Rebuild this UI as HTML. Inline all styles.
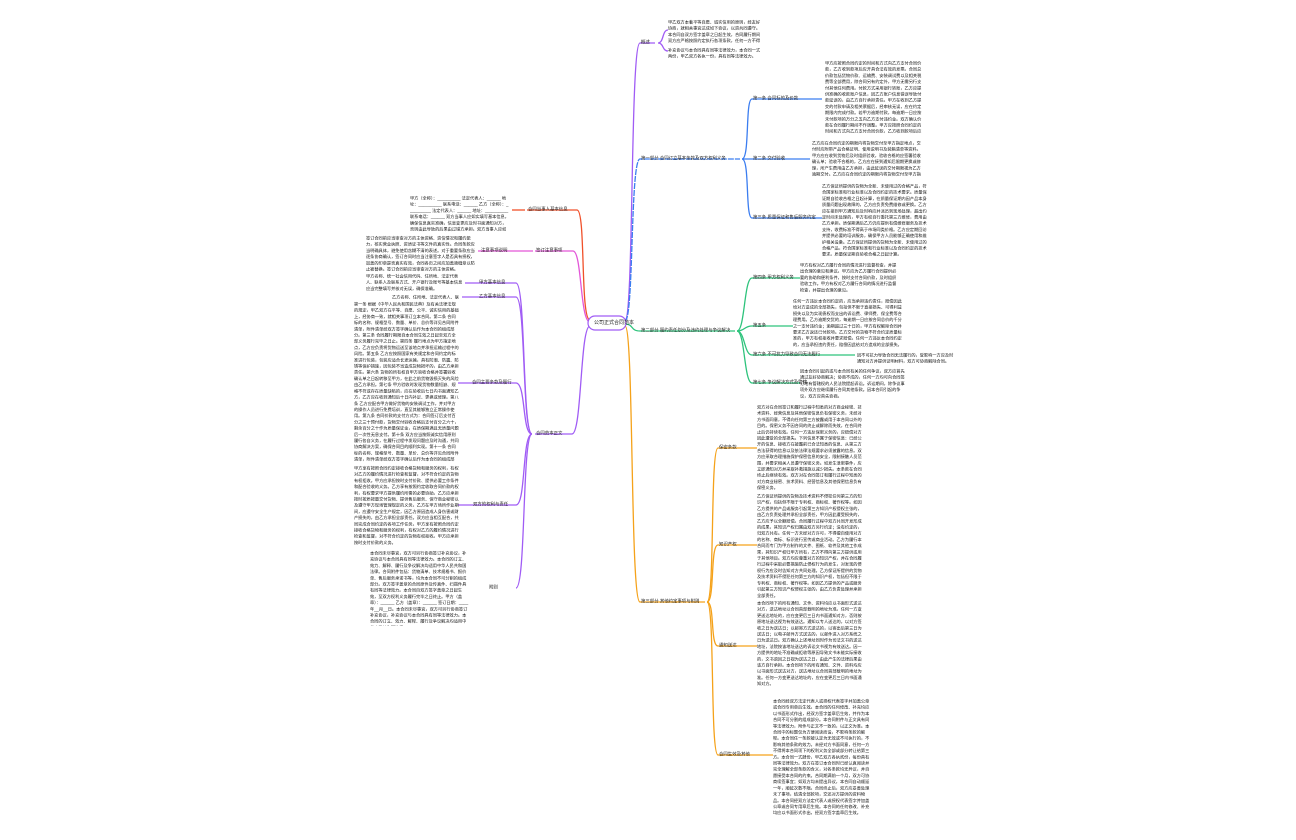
<!DOCTYPE html>
<html><head><meta charset="utf-8"><style>
body{margin:0;width:1296px;height:840px;background:#fff;position:relative;overflow:hidden;font-family:"Liberation Sans","Noto Sans CJK SC",sans-serif}
.t{position:absolute;font-size:8.4px;line-height:12.4px;color:#111;word-break:break-all;overflow:hidden;transform:scale(.5);transform-origin:0 0}
.l{position:absolute;font-size:8.8px;line-height:12px;color:#222;white-space:nowrap;transform:scale(.5);transform-origin:0 0}
svg{position:absolute;left:0;top:0}
</style></head><body>
<svg width="1296" height="840" fill="none" stroke-width="1.3">
<path d="M625 320 C634 320,630 43,640 43 L655 43" stroke="#a05cf5"/>
<path d="M625 321 C634 321,630 159,640 159 L740 159" stroke="#3b7df0" stroke-dasharray="6 1"/>
<path d="M625 324 C634 324,630 331,640 331 L735 331" stroke="#2ec37c"/>
<path d="M625 326 C634 326,630 602,640 602 L705 602" stroke="#f5a21a"/>
<path d="M590 320 C580 320,586 210,577 210 L527 210" stroke="#f0502a"/>
<path d="M590 322 C580 322,582 251,573 251 L535 251" stroke="#e356d8"/>
<path d="M590 326 C580 326,582 434,572 434 L535 434" stroke="#a05cf5"/>
<path d="M658 43 C664 43,662 30,668 30 M658 43 C664 43,662 51,668 51" stroke="#a05cf5"/>
<path d="M742 159 C750 159,745 99,752 99 L822 99" stroke="#3b7df0"/>
<path d="M742 159 L810 159" stroke="#3b7df0"/>
<path d="M742 159 C750 159,745 218,752 218 L822 218" stroke="#3b7df0"/>
<path d="M737 331 C745 331,744 278,752 278 L800 278" stroke="#2ec37c"/>
<path d="M737 331 C745 331,744 326,752 326 L793 326" stroke="#2ec37c"/>
<path d="M737 331 C745 331,744 355,752 355 L855 355" stroke="#2ec37c"/>
<path d="M737 331 C745 331,744 383,752 383 L800 383" stroke="#2ec37c"/>
<path d="M707 602 C715 602,710 448,718 448 L757 448" stroke="#f5a21a"/>
<path d="M707 602 C715 602,710 545,718 545 L757 545" stroke="#f5a21a"/>
<path d="M707 602 C715 602,710 646,718 646 L757 646" stroke="#f5a21a"/>
<path d="M707 602 C715 602,710 755,718 755 L773 755" stroke="#f5a21a"/>
<path d="M525 210 L512 210" stroke="#f0502a"/>
<path d="M533 251 L478 251" stroke="#e356d8"/>
<path d="M532 434 C522 434,526 283,516 283 L465 283" stroke="#a05cf5"/>
<path d="M532 434 C522 434,526 297,516 297 L462 297" stroke="#a05cf5"/>
<path d="M532 434 C522 434,526 383,516 383 L458 383" stroke="#a05cf5"/>
<path d="M532 434 C522 434,526 505,516 505 L458 505" stroke="#a05cf5"/>
<path d="M532 434 C522 434,526 588,516 588" stroke="#a05cf5"/>
<rect x="588" y="316" width="38" height="14" rx="7" fill="#fff" stroke="#a05cf5" stroke-width="1.2"/>
</svg>
<div class="l" style="left:594px;top:320px;font-size:10px">公司正式合同范本</div>

<div class="l" style="left:641px;top:39px">概述</div>
<div class="l" style="left:641px;top:155px">第一部分 合同订立基本条款及双方权利义务</div>
<div class="l" style="left:641px;top:327px">第二部分 履约责任划分及违约处理与争议解决</div>
<div class="l" style="left:641px;top:598px">第三部分 其他约定事项与附则</div>

<div class="l" style="left:753px;top:95px">第一条 合同标的及价款</div>
<div class="l" style="left:753px;top:155px">第二条 交付验收</div>
<div class="l" style="left:753px;top:214px">第三条 质量保证和售后服务约定</div>
<div class="l" style="left:753px;top:274px">第四条 甲方权利义务</div>
<div class="l" style="left:753px;top:322px">第五条</div>
<div class="l" style="left:753px;top:351px">第六条 不可抗力导致合同无法履行</div>
<div class="l" style="left:753px;top:379px">第七条 争议解决方式及管辖</div>
<div class="l" style="left:719px;top:444px">保密条款</div>
<div class="l" style="left:719px;top:541px">知识产权</div>
<div class="l" style="left:719px;top:642px">通知送达</div>
<div class="l" style="left:719px;top:751px">合同生效及其他</div>

<div class="l" style="left:528px;top:206px">合同当事人基本信息</div>
<div class="l" style="left:536px;top:247px">签订注意事项</div>
<div class="l" style="left:481px;top:247px">注意事项说明</div>
<div class="l" style="left:536px;top:430px">合同范本正文</div>
<div class="l" style="left:479px;top:279px">甲方基本信息</div>
<div class="l" style="left:479px;top:293px">乙方基本信息</div>
<div class="l" style="left:472px;top:379px">合同主要条款及履行</div>
<div class="l" style="left:473px;top:501px">双方的权利与责任</div>
<div class="l" style="left:489px;top:584px">附则</div>

<div class="t" style="left:668px;top:19px;width:190px;height:50px">甲乙双方本着平等自愿、诚实信用的原则，经友好协商，就相关事宜达成如下协议，以资共同遵守。本合同自双方签字盖章之日起生效，合同履行期间双方应严格按照约定执行各项条款，任何一方不得擅自变更或解除合同。本合同未尽事宜由双方另行协商解决并签订补充协议。</div>
<div class="t" style="left:668px;top:47px;width:190px;height:26px">补充协议与本合同具有同等法律效力，本合同一式两份，甲乙双方各执一份，具有同等法律效力。</div>

<div class="t" style="left:825px;top:60px;width:200px;height:150px">甲方应按照合同约定的时间和方式向乙方支付合同价款，乙方收到款项后应开具合法有效的发票。合同总价款包括货物价款、运输费、安装调试费以及相关税费等全部费用，除合同另有约定外，甲方无需另行支付其他任何费用。付款方式采用银行转账，乙方应提供准确的收款账户信息，因乙方账户信息错误导致付款延误的，由乙方自行承担责任。甲方在收到乙方提交的付款申请及相关票据后，经审核无误，应在约定期限内完成付款。若甲方逾期付款，每逾期一日应按未付款项的万分之五向乙方支付违约金。双方确认价款在合同履行期间不作调整。甲方应按照合同约定的时间和方式向乙方支付合同价款，乙方收到款项后应开具合法有效的发票。合同总价款包括货物价款、运输费、安装调试费以及相关税费等全部费用。</div>
<div class="t" style="left:812px;top:140px;width:220px;height:74px">乙方应在合同约定的期限内将货物交付至甲方指定地点，交付时应附带产品合格证明、使用说明书及装箱清单等资料。甲方应在收到货物后及时组织验收，验收合格的应签署验收确认单；验收不合格的，乙方应在接到通知后限期更换或修理，所产生费用由乙方承担，由此延误的交付期限视为乙方逾期交付。乙方应在合同约定的期限内将货物交付至甲方指定地点。</div>
<div class="t" style="left:822px;top:183px;width:210px;height:148px">乙方保证所提供的货物为全新、未使用过的合格产品，符合国家标准和行业标准以及合同约定的技术要求。质量保证期自验收合格之日起计算，在质量保证期内因产品本身质量问题出现故障的，乙方应负责免费维修或更换。乙方应在接到甲方通知后及时响应并派员到现场处理，超出约定时间未处理的，甲方有权自行委托第三方维修，费用由乙方承担。质保期满后乙方仍应提供有偿维修服务及技术支持，收费标准不得高于市场同类价格。乙方应定期回访并提供必要的培训服务，确保甲方人员能够正确使用和维护相关设备。乙方保证所提供的货物为全新、未使用过的合格产品，符合国家标准和行业标准以及合同约定的技术要求。质量保证期自验收合格之日起计算。</div>

<div class="t" style="left:800px;top:262px;width:200px;height:62px">甲方有权对乙方履行合同的情况进行监督检查，并提出合理的意见和建议。甲方应为乙方履行合同提供必要的协助和便利条件，按时支付合同价款，及时组织验收工作。甲方有权对乙方履行合同的情况进行监督检查，并提出合理的意见。</div>
<div class="t" style="left:793px;top:298px;width:220px;height:112px">任何一方违反本合同约定的，应当承担违约责任，赔偿因此给对方造成的全部损失，包括但不限于直接损失、可得利益损失以及为实现债权而支出的诉讼费、律师费、保全费等合理费用。乙方逾期交货的，每逾期一日应按合同总价的千分之一支付违约金；逾期超过三十日的，甲方有权解除合同并要求乙方返还已付款项。乙方交付的货物不符合约定质量标准的，甲方有权拒收并要求赔偿。任何一方违反本合同约定的，应当承担违约责任，赔偿因此给对方造成的全部损失。</div>
<div class="t" style="left:857px;top:352px;width:200px;height:26px">因不可抗力导致合同无法履行的，受影响一方应及时通知对方并提供证明材料，双方可协商解除合同。</div>
<div class="t" style="left:800px;top:368px;width:210px;height:62px">因本合同引起的或与本合同有关的任何争议，双方应首先通过友好协商解决；协商不成的，任何一方均可向合同签订地有管辖权的人民法院提起诉讼。诉讼期间，除争议事项外双方应继续履行合同其他条款。因本合同引起的争议，双方应首先协商。</div>

<div class="t" style="left:757px;top:404px;width:210px;height:172px">双方对在合同签订和履行过程中知悉的对方商业秘密、技术资料、经营信息及其他保密信息负有保密义务，未经对方书面同意，不得向任何第三方披露或用于本合同以外的目的。保密义务不因合同的终止或解除而失效，在合同终止后仍持续有效。任何一方违反保密义务的，应赔偿对方因此遭受的全部损失。下列信息不属于保密信息：已经公开的信息、接收方在披露前已合法知悉的信息、从第三方合法获得的信息以及依法律法规要求必须披露的信息。双方应采取合理措施保护保密信息的安全，限制接触人员范围，并要求相关人员遵守保密义务。如发生泄密事件，应立即通知对方并采取补救措施以减少损失。本条款在合同终止后继续有效。双方对在合同签订和履行过程中知悉的对方商业秘密、技术资料、经营信息及其他保密信息负有保密义务。</div>
<div class="t" style="left:757px;top:493px;width:210px;height:210px">乙方保证所提供的货物及技术资料不侵犯任何第三方的知识产权，包括但不限于专利权、商标权、著作权等。如因乙方提供的产品或服务引起第三方知识产权侵权主张的，由乙方负责处理并承担全部责任，甲方因此遭受损失的，乙方应予以全额赔偿。合同履行过程中双方共同开发形成的成果，其知识产权归属由双方另行约定；没有约定的，归双方共有。任何一方未经对方许可，不得擅自使用对方的名称、商标、标识进行宣传或商业活动。乙方为履行本合同而专门为甲方制作的文件、图纸、软件及其他工作成果，其知识产权归甲方所有，乙方不得向第三方提供或用于其他项目。双方均应尊重对方的知识产权，并在合同履行过程中采取必要措施防止侵权行为的发生，对发现的侵权行为应及时告知对方共同处理。乙方保证所提供的货物及技术资料不侵犯任何第三方的知识产权，包括但不限于专利权、商标权、著作权等。如因乙方提供的产品或服务引起第三方知识产权侵权主张的，由乙方负责处理并承担全部责任。</div>
<div class="t" style="left:757px;top:600px;width:210px;height:190px">本合同项下的所有通知、文件、资料均应以书面形式送达对方，送达地址以合同首部载明的地址为准。任何一方变更送达地址的，应在变更后三日内书面通知对方，否则按原地址送达视为有效送达。通知以专人送达的，以对方签收之日为送达日；以邮寄方式送达的，以寄出后第三日为送达日；以电子邮件方式送达的，以邮件进入对方系统之日为送达日。双方确认上述地址同时作为司法文书的送达地址，法院按该地址送达的诉讼文书视为有效送达。因一方提供的地址不准确或拒收等原因导致文书未能实际接收的，文书退回之日视为送达之日，由此产生的法律后果由该方自行承担。本合同项下的所有通知、文件、资料均应以书面形式送达对方，送达地址以合同首部载明的地址为准。任何一方变更送达地址的，应在变更后三日内书面通知对方。</div>
<div class="t" style="left:773px;top:698px;width:200px;height:242px">本合同经双方法定代表人或授权代表签字并加盖公章或合同专用章后生效。本合同的任何修改、补充均应以书面形式作出，经双方签字盖章后生效，并作为本合同不可分割的组成部分。本合同附件与正文具有同等法律效力，附件与正文不一致的，以正文为准。本合同中的标题仅为方便阅读而设，不影响条款的解释。本合同任一条款被认定为无效或不可执行的，不影响其他条款的效力。未经对方书面同意，任何一方不得将本合同项下的权利义务全部或部分转让给第三方。本合同一式肆份，甲乙双方各执贰份，每份具有同等法律效力。双方在签订本合同时已经认真阅读并完全理解全部条款的含义，对各条款均无异议，并自愿接受本合同的约束。合同期满前一个月，双方可协商续签事宜；如双方均未提出异议，本合同自动顺延一年，顺延次数不限。合同终止后，双方应妥善处理未了事项，结清全部款项，交还对方提供的资料物品。本合同经双方法定代表人或授权代表签字并加盖公章或合同专用章后生效。本合同的任何修改、补充均应以书面形式作出，经双方签字盖章后生效。</div>

<div class="t" style="left:410px;top:195px;width:200px;height:74px">甲方（全称）：__________ 法定代表人：______ 地址：__________ 联系电话：______ 乙方（全称）：__________ 法定代表人：______ 地址：__________ 联系电话：______ 双方当事人应如实填写基本信息，确保信息真实准确，信息变更应及时书面通知对方，否则由此导致的后果由过错方承担。双方当事人应如实填写基本信息。</div>
<div class="t" style="left:366px;top:235px;width:220px;height:74px">签订合同前应当审查对方的主体资格、资信情况和履约能力，核实营业执照、资质证书等文件的真实性。合同条款应当明确具体，避免使用含糊不清的表述。对于重要条款应当逐条协商确认，签订合同时应当注意签字人是否具有授权，加盖的印章是否真实有效，合同各页之间应加盖骑缝章以防止被替换。签订合同前应当审查对方的主体资格。</div>
<div class="t" style="left:366px;top:273px;width:200px;height:44px">甲方名称、统一社会信用代码、住所地、法定代表人、联系人及联系方式、开户银行及账号等基本信息应当完整填写并核对无误，确保准确。</div>
<div class="t" style="left:392px;top:294px;width:140px;height:13px">乙方名称、住所地、法定代表人、联系方式。</div>
<div class="t" style="left:354px;top:301px;width:210px;height:324px">第一条 根据《中华人民共和国民法典》及有关法律法规的规定，甲乙双方在平等、自愿、公平、诚实信用的基础上，经协商一致，就相关事项订立本合同。第二条 合同标的名称、规格型号、数量、单价、总价等详见合同附件清单，附件清单经双方签字确认后作为本合同的组成部分。第三条 合同履行期限自本合同生效之日起至双方全部义务履行完毕之日止。第四条 履行地点为甲方指定地点，乙方应负责将货物运送至该地点并承担运输过程中的风险。第五条 乙方应按照国家有关规定和合同约定的标准进行包装，包装应适合长途运输，具有防潮、防震、防锈等保护措施，因包装不当造成货物损坏的，由乙方承担责任。第六条 货物的所有权自甲方验收合格并签署验收确认单之日起转移至甲方，在此之前货物毁损灭失的风险由乙方承担。第七条 甲方验收时发现货物数量短缺、规格不符或存在质量缺陷的，应在验收后七日内书面通知乙方，乙方应在收到通知后十日内补足、更换或修理。第八条 乙方应配合甲方做好货物的安装调试工作，并对甲方的操作人员进行免费培训，直至其能够独立正常操作使用。第九条 合同价款的支付方式为：合同签订后支付百分之三十预付款，货物交付验收合格后支付百分之六十，剩余百分之十作为质量保证金，在质保期满且无质量问题后一次性无息支付。第十条 双方应当按照诚实信用原则履行各自义务，在履行过程中发现问题应及时沟通，共同协商解决方案，确保合同目的顺利实现。第十一条 合同标的名称、规格型号、数量、单价、总价等详见合同附件清单，附件清单经双方签字确认后作为本合同的组成部分。第十二条 乙方应配合甲方做好货物的安装调试工作，并对甲方的操作人员进行免费培训，直至其能够独立正常操作使用，双方共同确认。</div>
<div class="t" style="left:354px;top:465px;width:210px;height:162px">甲方享有按照合同约定接收合格货物和服务的权利，有权对乙方的履约情况进行检查和监督，对不符合约定的货物有权拒收。甲方应承担按时支付价款、提供必要工作条件和配合验收的义务。乙方享有按照约定收取合同价款的权利，有权要求甲方提供履约所需的必要协助。乙方应承担按时按质按量交付货物、提供售后服务、保守商业秘密以及遵守甲方现场管理规定的义务。乙方在甲方场所作业期间，应遵守安全生产规定，因乙方原因造成人身伤害或财产损失的，由乙方承担全部责任。双方应当相互配合，共同完成合同约定的各项工作任务。甲方享有按照合同约定接收合格货物和服务的权利，有权对乙方的履约情况进行检查和监督，对不符合约定的货物有权拒收。甲方应承担按时支付价款的义务。</div>
<div class="t" style="left:370px;top:550px;width:200px;height:152px">本合同未尽事宜，双方可另行协商签订补充协议，补充协议与本合同具有同等法律效力。本合同的订立、效力、解释、履行及争议解决均适用中华人民共和国法律。合同附件包括：货物清单、技术规格书、报价单、售后服务承诺书等，均为本合同不可分割的组成部分。双方签字盖章的合同原件及传真件、扫描件具有同等法律效力。本合同自双方签字盖章之日起生效，至双方权利义务履行完毕之日终止。甲方（盖章）：______ 乙方（盖章）：______ 签订日期：____年__月__日。本合同未尽事宜，双方可另行协商签订补充协议，补充协议与本合同具有同等法律效力。本合同的订立、效力、解释、履行及争议解决均适用中华人民共和国法律。</div>
</body></html>
